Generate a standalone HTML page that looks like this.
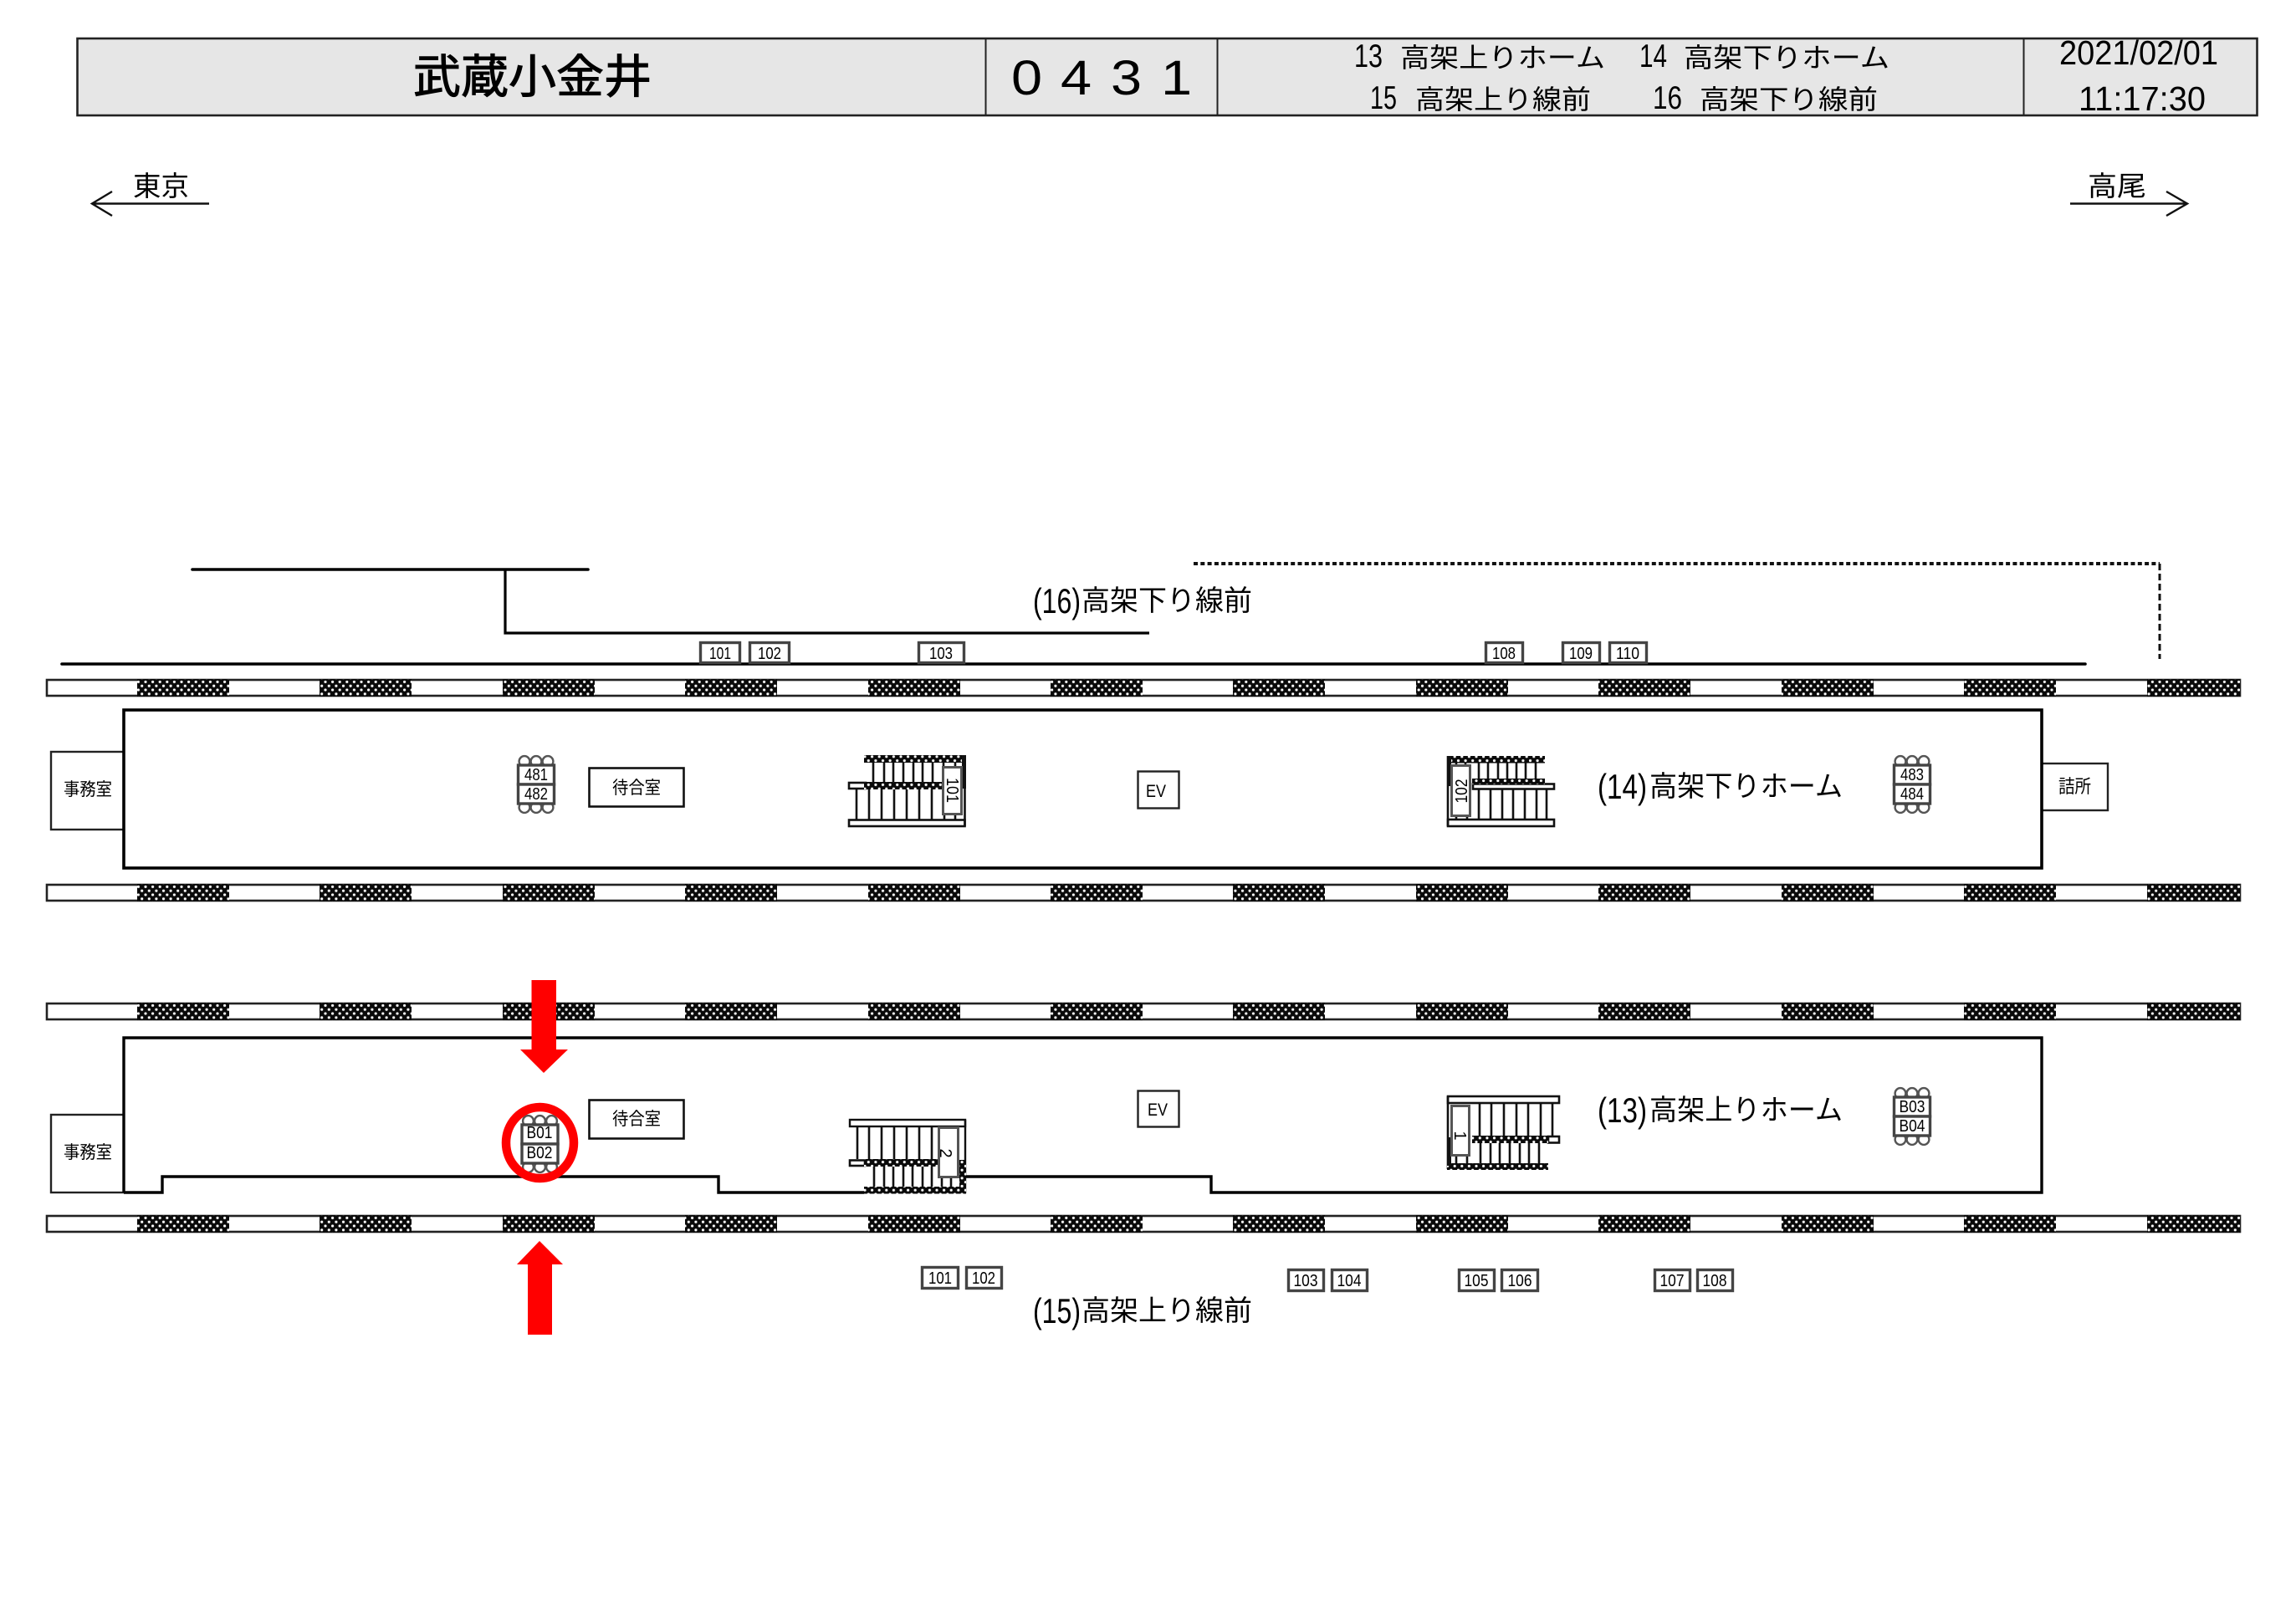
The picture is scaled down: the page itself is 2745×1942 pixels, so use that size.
<!DOCTYPE html>
<html lang="ja"><head><meta charset="utf-8"><title>武蔵小金井</title>
<style>
html,body{margin:0;padding:0;background:#fff}
svg{display:block}
text{font-family:"Liberation Sans","Noto Sans CJK JP",sans-serif;fill:#000}
.t{font-size:20px;text-anchor:middle}
.r{font-size:20px;text-anchor:middle}
.big{font-size:34px}
.dig{font-size:42px}
.h{font-size:32px}
.hd{font-size:39px}
</style></head><body>
<svg xmlns="http://www.w3.org/2000/svg" width="2745" height="1942" viewBox="0 0 2745 1942">
<defs>
<pattern id="dots" patternUnits="userSpaceOnUse" width="8.6" height="9.6">
<rect width="8.6" height="9.6" fill="#0a0a0a"/>
<circle cx="2" cy="2.4" r="1.6" fill="#fff"/>
<circle cx="6.3" cy="7.2" r="1.6" fill="#fff"/>
</pattern>
<g id="bar">
<rect x="56" y="0" width="2622" height="19" fill="#fff" stroke="#222" stroke-width="2.6"/>
<rect x="164" y="-1" width="110" height="21" fill="url(#dots)"/>
<rect x="382" y="-1" width="110" height="21" fill="url(#dots)"/>
<rect x="601" y="-1" width="110" height="21" fill="url(#dots)"/>
<rect x="819" y="-1" width="110" height="21" fill="url(#dots)"/>
<rect x="1038" y="-1" width="110" height="21" fill="url(#dots)"/>
<rect x="1256" y="-1" width="110" height="21" fill="url(#dots)"/>
<rect x="1474" y="-1" width="110" height="21" fill="url(#dots)"/>
<rect x="1693" y="-1" width="110" height="21" fill="url(#dots)"/>
<rect x="1911" y="-1" width="110" height="21" fill="url(#dots)"/>
<rect x="2130" y="-1" width="110" height="21" fill="url(#dots)"/>
<rect x="2348" y="-1" width="110" height="21" fill="url(#dots)"/>
<rect x="2567" y="-1" width="111" height="21" fill="url(#dots)"/>
</g>
<g id="gate" fill="#fff" stroke="#555" stroke-width="2.4">
<circle cx="9" cy="6.5" r="6.4"/><circle cx="23" cy="6.5" r="6.4"/><circle cx="37" cy="6.5" r="6.4"/>
<circle cx="9" cy="61.5" r="6.4"/><circle cx="23" cy="61.5" r="6.4"/><circle cx="37" cy="61.5" r="6.4"/>
<rect x="1.500" y="11" width="43" height="23" stroke-width="3.4" stroke="#444"/>
<rect x="1.500" y="34" width="43" height="23" stroke-width="3.4" stroke="#444"/>
</g>
</defs>

<!-- header -->
<rect x="92.500" y="46" width="2606" height="92" fill="#e6e6e6" stroke="#222" stroke-width="2.600"/>
<path d="M1178.500 46V138M1455.500 46V138M2419.500 46V138" stroke="#222" stroke-width="2" fill="none"/>
<text x="494" y="111" font-size="55" stroke="#000" stroke-width="1.100" textLength="285" lengthAdjust="spacingAndGlyphs">武蔵小金井</text>
<g style="font-family:'Liberation Sans',sans-serif" font-size="58">
<text transform="translate(1209 113) scale(1.15 1)" x="0" y="0">0</text>
<text transform="translate(1268 113) scale(1.15 1)" x="0" y="0">4</text>
<text transform="translate(1328 113) scale(1.15 1)" x="0" y="0">3</text>
<text transform="translate(1388 113) scale(1.15 1)" x="0" y="0">1</text>
</g>
<text class="hd" x="1619" y="80" textLength="34" lengthAdjust="spacingAndGlyphs">13</text>
<text class="h" x="1674" y="80" textLength="245" lengthAdjust="spacingAndGlyphs">高架上りホーム</text>
<text class="hd" x="1960" y="80" textLength="33" lengthAdjust="spacingAndGlyphs">14</text>
<text class="h" x="2013" y="80" textLength="246" lengthAdjust="spacingAndGlyphs">高架下りホーム</text>
<text class="hd" x="1638" y="130" textLength="32" lengthAdjust="spacingAndGlyphs">15</text>
<text class="h" x="1692" y="130" textLength="210" lengthAdjust="spacingAndGlyphs">高架上り線前</text>
<text class="hd" x="1976" y="130" textLength="35" lengthAdjust="spacingAndGlyphs">16</text>
<text class="h" x="2032" y="130" textLength="213" lengthAdjust="spacingAndGlyphs">高架下り線前</text>
<text x="2462" y="77" font-size="41" textLength="190" lengthAdjust="spacingAndGlyphs">2021/02/01</text>
<text x="2485" y="132" font-size="41" textLength="152" lengthAdjust="spacingAndGlyphs">11:17:30</text>

<!-- direction arrows -->
<text x="159" y="234" font-size="33" textLength="67" lengthAdjust="spacingAndGlyphs">東京</text>
<path d="M250 243.500H110M134 229L110 243.500L134 258" fill="none" stroke="#111" stroke-width="2.400"/>
<text x="2496" y="234" font-size="33" textLength="70" lengthAdjust="spacingAndGlyphs">高尾</text>
<path d="M2475 243.500H2615M2590 229L2615 243.500L2590 258" fill="none" stroke="#111" stroke-width="2.400"/>

<!-- top lines -->
<path d="M230 681H703" stroke="#000" stroke-width="3.600" fill="none" stroke-linecap="round"/>
<path d="M604 681V757H1374" stroke="#000" stroke-width="3.200" fill="none"/>
<path d="M74 794H2493" stroke="#000" stroke-width="3.600" fill="none" stroke-linecap="round"/>
<path d="M1427 674H2582" stroke="#111" stroke-width="4" stroke-dasharray="5 3.300" fill="none"/>
<path d="M2582 674V788" stroke="#111" stroke-width="3" stroke-dasharray="8 4" fill="none"/>
<text class="dig" x="1235" y="733" textLength="57" lengthAdjust="spacingAndGlyphs">(16)</text>
<text class="big" x="1293" y="730" textLength="204" lengthAdjust="spacingAndGlyphs">高架下り線前</text>

<!-- upper tickets -->
<g fill="#fff" stroke="#444" stroke-width="3.400">
<rect x="837.500" y="768.500" width="47" height="24"/>
<rect x="896.500" y="768.500" width="47" height="24"/>
<rect x="1098.500" y="768.500" width="54" height="24"/>
<rect x="1776.500" y="768.500" width="44" height="24"/>
<rect x="1868.500" y="768.500" width="44" height="24"/>
<rect x="1924.500" y="768.500" width="44" height="24"/>
</g>
<text class="t" x="861" y="788" textLength="26" lengthAdjust="spacingAndGlyphs">101</text>
<text class="t" x="920" y="788" textLength="28" lengthAdjust="spacingAndGlyphs">102</text>
<text class="t" x="1125" y="788" textLength="28" lengthAdjust="spacingAndGlyphs">103</text>
<text class="t" x="1798" y="788" textLength="28" lengthAdjust="spacingAndGlyphs">108</text>
<text class="t" x="1890" y="788" textLength="28" lengthAdjust="spacingAndGlyphs">109</text>
<text class="t" x="1946" y="788" textLength="28" lengthAdjust="spacingAndGlyphs">110</text>

<!-- track bars -->
<use href="#bar" x="0" y="813"/>
<use href="#bar" x="0" y="1058"/>
<use href="#bar" x="0" y="1200"/>
<use href="#bar" x="0" y="1454"/>

<!-- platform 14 -->
<rect x="61" y="899" width="87" height="93" fill="#fff" stroke="#222" stroke-width="2.400"/>
<rect x="2441" y="913" width="79" height="56" fill="#fff" stroke="#222" stroke-width="2.400"/>
<rect x="148" y="849" width="2293" height="189" fill="#fff" stroke="#000" stroke-width="3.600"/>
<text x="76" y="951" font-size="21" textLength="58" lengthAdjust="spacingAndGlyphs">事務室</text>
<text x="2461" y="948" font-size="22" textLength="39" lengthAdjust="spacingAndGlyphs">詰所</text>
<rect x="704.500" y="918.500" width="113" height="46" fill="#fff" stroke="#111" stroke-width="2.600"/>
<text x="732" y="949" font-size="21" textLength="58" lengthAdjust="spacingAndGlyphs">待合室</text>
<rect x="1360.500" y="922.500" width="49" height="44" fill="#fff" stroke="#222" stroke-width="2.400"/>
<text x="1382" y="953" font-size="21" text-anchor="middle" textLength="24" lengthAdjust="spacingAndGlyphs">EV</text>
<text class="dig" x="1910" y="955" textLength="59" lengthAdjust="spacingAndGlyphs">(14)</text>
<text class="big" x="1972" y="952" textLength="231" lengthAdjust="spacingAndGlyphs">高架下りホーム</text>

<use href="#gate" x="618" y="904"/>
<text class="t" x="641" y="933" textLength="28" lengthAdjust="spacingAndGlyphs">481</text>
<text class="t" x="641" y="956" textLength="28" lengthAdjust="spacingAndGlyphs">482</text>
<use href="#gate" x="2263" y="904"/>
<text class="t" x="2286" y="933" textLength="28" lengthAdjust="spacingAndGlyphs">483</text>
<text class="t" x="2286" y="956" textLength="28" lengthAdjust="spacingAndGlyphs">484</text>

<!-- stairs 101 -->
<g fill="none" stroke="#111" stroke-width="2.600">
<path d="M1044 912V935M1057 912V935M1068 912V935M1080 912V935M1092 912V935M1103 912V935M1115 912V935M1128 912V916M1142 912V916"/>
<path d="M1024 943V980M1039 943V980M1054 943V980M1069 943V980M1084 943V980M1099 943V980M1114 943V980M1129 974V980M1142 974V980"/>
<rect x="1015" y="980.500" width="138.500" height="7.500" fill="#fff"/>
<rect x="1015" y="936" width="20" height="7" fill="#fff"/>
<path d="M1153.500 904V988"/>
</g>
<rect x="1033" y="903" width="121" height="9" fill="url(#dots)"/>
<rect x="1033" y="935" width="93" height="9" fill="url(#dots)"/>
<rect x="1150" y="903" width="5" height="40" fill="#111"/>
<rect x="1127.500" y="917.500" width="22" height="56" fill="#fff" stroke="#555" stroke-width="3"/>
<text class="r" transform="translate(1132 945) rotate(90)" textLength="30" lengthAdjust="spacingAndGlyphs">101</text>

<!-- stairs 102 -->
<g fill="none" stroke="#111" stroke-width="2.600">
<path d="M1768 912V932M1779 912V932M1791 912V932M1802 912V932M1813 912V932M1824 912V932M1836 912V932M1741 912V915M1752 912V915"/>
<path d="M1768 943V979M1782 943V979M1796 943V979M1809 943V979M1823 943V979M1837 943V979M1849 943V979M1741 976V979M1754 976V979"/>
<rect x="1761" y="937.500" width="97" height="6" fill="#fff"/>
<rect x="1731" y="980" width="127" height="8" fill="#fff"/>
<path d="M1731 904V988"/>
</g>
<rect x="1731" y="904" width="116" height="8.500" fill="url(#dots)"/>
<rect x="1760" y="931" width="87" height="6.500" fill="url(#dots)"/>
<rect x="1730" y="904" width="5" height="36" fill="#111"/>
<rect x="1735.500" y="915.500" width="22" height="60" fill="#fff" stroke="#555" stroke-width="3"/>
<text class="r" transform="translate(1754 946) rotate(-90)" textLength="29" lengthAdjust="spacingAndGlyphs">102</text>

<!-- platform 13 -->
<rect x="61" y="1333" width="87" height="93" fill="#fff" stroke="#222" stroke-width="2.400"/>
<path d="M148 1426V1241H2441V1426H1448V1407H1155M1033 1426H859V1407H194V1426H148" fill="#fff" stroke="#000" stroke-width="3.400"/>
<text x="76" y="1385" font-size="21" textLength="58" lengthAdjust="spacingAndGlyphs">事務室</text>
<rect x="704.500" y="1315.500" width="113" height="46" fill="#fff" stroke="#111" stroke-width="2.600"/>
<text x="732" y="1345" font-size="21" textLength="58" lengthAdjust="spacingAndGlyphs">待合室</text>
<rect x="1360.500" y="1304.500" width="49" height="43" fill="#fff" stroke="#222" stroke-width="2.400"/>
<text x="1384" y="1334" font-size="21" text-anchor="middle" textLength="24" lengthAdjust="spacingAndGlyphs">EV</text>
<text class="dig" x="1910" y="1342" textLength="59" lengthAdjust="spacingAndGlyphs">(13)</text>
<text class="big" x="1972" y="1339" textLength="231" lengthAdjust="spacingAndGlyphs">高架上りホーム</text>

<use href="#gate" x="622.500" y="1334"/>
<text class="t" x="645" y="1361" textLength="31" lengthAdjust="spacingAndGlyphs">B01</text>
<text class="t" x="645" y="1385" textLength="31" lengthAdjust="spacingAndGlyphs">B02</text>
<use href="#gate" x="2263" y="1301"/>
<text class="t" x="2286" y="1330" textLength="31" lengthAdjust="spacingAndGlyphs">B03</text>
<text class="t" x="2286" y="1353" textLength="31" lengthAdjust="spacingAndGlyphs">B04</text>

<!-- stairs 2 -->
<rect x="1016" y="1339" width="138" height="8" fill="#fff" stroke="#111" stroke-width="2.400"/>
<path d="M1154 1339V1427" stroke="#111" stroke-width="2.400" fill="none"/>
<g fill="none" stroke="#111" stroke-width="2.600">
<path d="M1025 1347V1386M1039 1347V1386M1054 1347V1386M1069 1347V1386M1084 1347V1386M1099 1347V1386M1114 1347V1386"/>
<path d="M1045 1394V1419M1057 1394V1419M1068 1394V1419M1080 1394V1419M1091 1394V1419M1103 1394V1419M1114 1394V1419M1126 1408V1419M1137 1408V1419"/>
<rect x="1016" y="1387.500" width="18" height="6.500" fill="#fff"/>
</g>
<rect x="1033" y="1386" width="90" height="9" fill="url(#dots)"/>
<rect x="1033" y="1419" width="122" height="8.500" fill="url(#dots)"/>
<rect x="1147" y="1387" width="8" height="40" fill="url(#dots)"/>
<rect x="1122.500" y="1348.500" width="23" height="59" fill="#fff" stroke="#555" stroke-width="3"/>
<text class="r" transform="translate(1124 1379) rotate(90)">2</text>

<!-- stairs 1 -->
<g fill="none" stroke="#111" stroke-width="2.600">
<rect x="1731" y="1311" width="133" height="8" fill="#fff"/>
<path d="M1769 1319V1358M1783 1319V1358M1798 1319V1358M1813 1319V1358M1827 1319V1358M1842 1319V1358M1856 1319V1358"/>
<path d="M1770 1367V1392M1782 1367V1392M1793 1367V1392M1805 1367V1392M1817 1367V1392M1828 1367V1392M1840 1367V1392M1741 1382V1392M1754 1382V1392"/>
<rect x="1851" y="1359" width="13" height="7.500" fill="#fff"/>
<path d="M1731 1311V1398"/>
</g>
<rect x="1760" y="1358" width="91" height="9" fill="url(#dots)"/>
<rect x="1730" y="1391" width="121" height="8" fill="url(#dots)"/>
<rect x="1730" y="1360" width="5" height="34" fill="#111"/>
<rect x="1735.500" y="1322.500" width="21" height="59" fill="#fff" stroke="#555" stroke-width="3"/>
<text class="r" transform="translate(1739 1358) rotate(90)">1</text>

<!-- lower tickets -->
<g fill="#fff" stroke="#444" stroke-width="3.400">
<rect x="1102.500" y="1515.500" width="43" height="25"/>
<rect x="1155.500" y="1515.500" width="42" height="25"/>
<rect x="1540.500" y="1518.500" width="42" height="25"/>
<rect x="1592.500" y="1518.500" width="42" height="25"/>
<rect x="1744.500" y="1518.500" width="42" height="25"/>
<rect x="1795.500" y="1518.500" width="43" height="25"/>
<rect x="1978.500" y="1518.500" width="42" height="25"/>
<rect x="2029.500" y="1518.500" width="42" height="25"/>
</g>
<text class="t" x="1124" y="1535" textLength="28" lengthAdjust="spacingAndGlyphs">101</text>
<text class="t" x="1176" y="1535" textLength="28" lengthAdjust="spacingAndGlyphs">102</text>
<text class="t" x="1561" y="1538" textLength="29" lengthAdjust="spacingAndGlyphs">103</text>
<text class="t" x="1613" y="1538" textLength="29" lengthAdjust="spacingAndGlyphs">104</text>
<text class="t" x="1765" y="1538" textLength="29" lengthAdjust="spacingAndGlyphs">105</text>
<text class="t" x="1817" y="1538" textLength="29" lengthAdjust="spacingAndGlyphs">106</text>
<text class="t" x="1999" y="1538" textLength="29" lengthAdjust="spacingAndGlyphs">107</text>
<text class="t" x="2050" y="1538" textLength="29" lengthAdjust="spacingAndGlyphs">108</text>
<text class="dig" x="1235" y="1582" textLength="57" lengthAdjust="spacingAndGlyphs">(15)</text>
<text class="big" x="1293" y="1579" textLength="204" lengthAdjust="spacingAndGlyphs">高架上り線前</text>

<!-- red highlights -->
<ellipse cx="645.500" cy="1366.500" rx="40.500" ry="42.500" fill="none" stroke="#ff0000" stroke-width="10.500"/>
<polygon points="635.500,1172 665,1172 665,1255 679,1255 650,1283 622,1255 635.500,1255" fill="#ff0000"/>
<polygon points="645,1484 673,1512 660,1512 660,1596 631,1596 631,1512 618,1512" fill="#ff0000"/>
</svg>
</body></html>
